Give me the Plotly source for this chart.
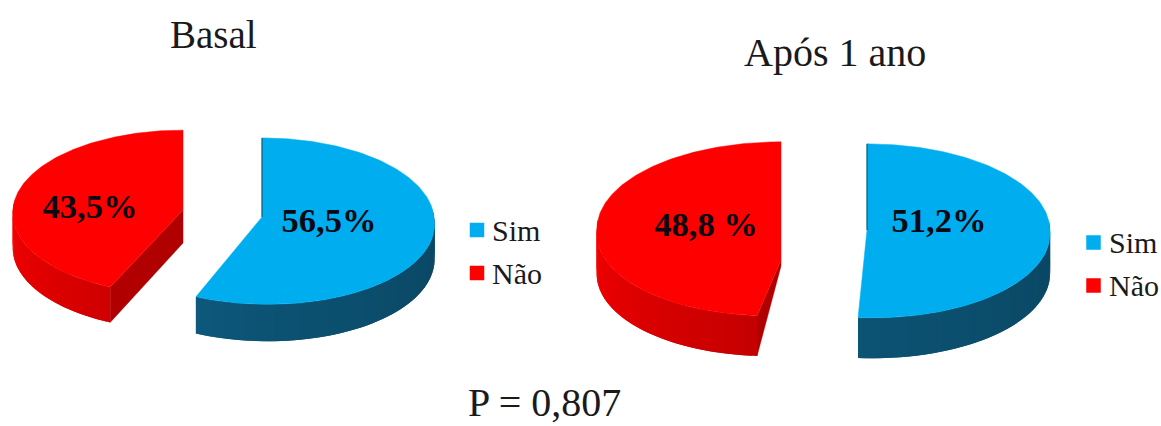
import numpy as np
import plotly.graph_objects as go

# Chart data
panel_titles = ["Basal", "Após 1 ano"]
footer_text = "P = 0,807"
categories = ["Sim", "Não"]
basal_values = [56.5, 43.5]
after_values = [51.2, 48.8]
basal_labels = ["56,5%", "43,5%"]
after_labels = ["51,2%", "48,8 %"]

TOP_COLORS = {"Sim": "#00AEEF", "Não": "#FF0000"}
# Rim shading, from the 3 o'clock side to the 9 o'clock side of each wall
WALL_RAMPS = {
    "Sim": ["#0A4763", "#0B4C6A", "#0C5273", "#0F5E85", "#2388B0"],
    "Não": ["#F40000", "#DC0000", "#C20000", "#AA0000", "#980000"],
}
SERIF = "Liberation Serif"

fig = go.Figure()


def lerp_color(ramp, t):
    t = min(max(t, 0.0), 1.0) * (len(ramp) - 1)
    i = min(int(t), len(ramp) - 2)
    f = t - i
    a = [int(ramp[i][j:j + 2], 16) for j in (1, 3, 5)]
    b = [int(ramp[i + 1][j:j + 2], 16) for j in (1, 3, 5)]
    return "rgb({},{},{})".format(*[round(p + (q - p) * f) for p, q in zip(a, b)])


def project(theta, g):
    """Perspective projection of a disc point; theta runs clockwise from 12 o'clock."""
    u, v = np.sin(theta), -np.cos(theta)
    s = 1.0 / (1.0 - g["k"] * v)
    x = g["cx"] + g["rx"] * u * s + g["shear"] * np.maximum(v, 0)
    y = g["cy"] + g["ry"] * v * s
    return x, y, s


def polygon(x, y, color, width=0.0):
    fig.add_trace(go.Scatter(x=x, y=y, mode="lines", fill="toself", fillcolor=color,
                             line=dict(color=color, width=width), hoverinfo="skip",
                             showlegend=False))


def draw_wedge(start_pct, pct, g, name):
    a0 = np.deg2rad(start_pct * 3.6)
    a1 = np.deg2rad((start_pct + pct) * 3.6)
    theta = np.linspace(a0, a1, 160)
    x, y, s = project(theta, g)
    d = g["depth"]
    ay = g.get("apex_y", g["cy"])

    # Radial cut face, visible only on the wedge that ends at 12 o'clock
    if name == "Não":
        tx, ty, ts = project(a0, g)
        polygon([g["cx"], g["cx"], tx, tx],
                [ay, g["apex_floor"], ty + d * ts, ty], "#B00000", 0.5)

    # Outer wall: each strip reaches over the next one, so no seam shows through
    wall = np.linspace(max(a0, np.pi / 2 - 0.1), min(a1, 3 * np.pi / 2 + 0.1), 61)
    wx, wy, ws = project(wall, g)
    for i in range(len(wall) - 1):
        j = min(i + 2, len(wall) - 1)
        t = (wall[i] - np.pi / 2) / np.pi
        polygon([wx[i], wx[j], wx[j], wx[i]],
                [wy[i], wy[j], wy[j] + d * ws[j], wy[i] + d * ws[i]],
                lerp_color(WALL_RAMPS[name], t if name == "Sim" else 1 - t))

    # Top face
    polygon(np.r_[g["cx"], x, g["cx"]], np.r_[ay, y, ay], TOP_COLORS[name], 0.5)

    # Thin dark edge where the wedge meets the hidden back cut
    if name == "Sim":
        bx, by, _ = project(a0, g)
        fig.add_trace(go.Scatter(x=[g["cx"], bx], y=[g["cy"], by], mode="lines",
                                 line=dict(color="#0B4A66", width=1), hoverinfo="skip",
                                 showlegend=False))


def draw_label(x, y, text):
    fig.add_trace(go.Scatter(x=[x], y=[y], mode="text", text=[text], textposition="middle center",
                             textfont=dict(family=SERIF, size=34.5, color="#0A0A14"),
                             hoverinfo="skip", showlegend=False))


def draw_legend(x, ys, text_dx):
    for name, yy in zip(categories, ys):
        fig.add_trace(go.Scatter(x=[x], y=[yy], mode="markers",
                                 marker=dict(symbol="square", size=14.5, color=TOP_COLORS[name]),
                                 hoverinfo="skip", showlegend=False))
        fig.add_annotation(x=x + text_dx, y=yy, text=name, showarrow=False, xanchor="left",
                           yanchor="middle", font=dict(family=SERIF, size=30, color="#1A1A1A"))


geometry = [
    {"Sim": dict(cx=262, cy=217, rx=172, ry=83, k=0.05, depth=35, shear=6),
     "Não": dict(cx=183, cy=209, rx=170, ry=82, k=0.04, depth=34, shear=-3,
                 apex_y=210, apex_floor=243)},
    {"Sim": dict(cx=867, cy=230, rx=183, ry=87, k=0.01, depth=40, shear=5),
     "Não": dict(cx=781, cy=228, rx=184, ry=87, k=0.01, depth=40, shear=-10,
                 apex_y=260, apex_floor=266)},
]

# Basal pie
draw_wedge(0, basal_values[0], geometry[0]["Sim"], "Sim")
draw_wedge(basal_values[0], basal_values[1], geometry[0]["Não"], "Não")
draw_label(329, 223, "<b>" + basal_labels[0] + "</b>")
draw_label(90, 209, "<b>" + basal_labels[1] + "</b>")
draw_legend(477, (230, 273), 13)

# Pie after one year
draw_wedge(0, after_values[0], geometry[1]["Sim"], "Sim")
draw_wedge(after_values[0], after_values[1], geometry[1]["Não"], "Não")
draw_label(939, 223, "<b>" + after_labels[0] + "</b>")
draw_label(706, 227, "<b>" + after_labels[1] + "</b>")
draw_legend(1093.5, (242.5, 285.5), 13)

# Panel titles and the p-value line
for text, x, y, size in [(panel_titles[0], 213, 34, 39), (panel_titles[1], 835, 52, 40),
                         (footer_text, 544, 402, 40)]:
    fig.add_annotation(x=x, y=y, text=text, showarrow=False, xanchor="center", yanchor="middle",
                       font=dict(family=SERIF, size=size, color="#1A1A1A"))

fig.update_layout(width=1161, height=426, margin=dict(l=0, r=0, t=0, b=0),
                  paper_bgcolor="white", plot_bgcolor="white", showlegend=False,
                  xaxis=dict(range=[0, 1161], visible=False, fixedrange=True),
                  yaxis=dict(range=[426, 0], visible=False, fixedrange=True))

fig.write_html("out.html", config={"displayModeBar": False})
